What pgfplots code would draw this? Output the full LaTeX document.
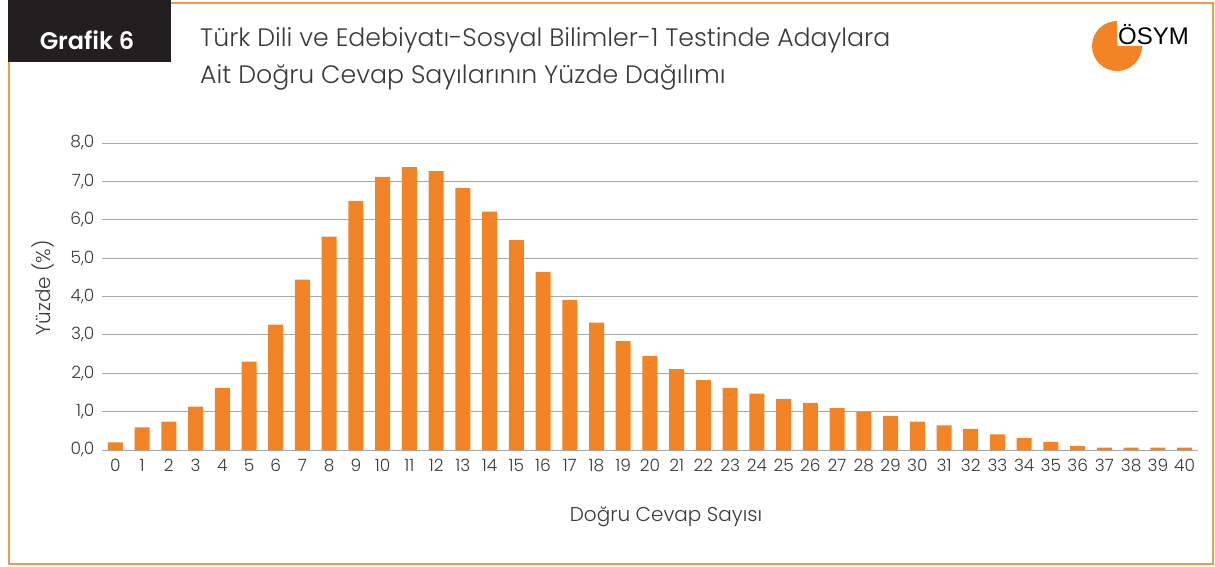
\documentclass[border=0pt]{standalone}
\usepackage{fontspec}
\setmainfont{Poppins}[UprightFont=* Light, BoldFont=* SemiBold]
\newfontfamily\osymfont{Liberation Sans}
\usepackage{pgfplots}
\pgfplotsset{compat=1.18}
\definecolor{barorange}{HTML}{F38425}
\definecolor{frameorange}{HTML}{F29A4A}
\definecolor{gridgray}{HTML}{A8A8A8}
\definecolor{textgray}{HTML}{3A3A3A}
\definecolor{boxblack}{HTML}{231F20}

\begin{document}
\begin{tikzpicture}[x=1pt,y=1pt]
\useasboundingbox (0,0) rectangle (1215,566);
% frame and header
\draw[frameorange, line width=1.3pt] (171,563) -- (1213,563) -- (1213,2) -- (9,2) -- (9,504);
\fill[boxblack] (8,504) rectangle (171,566);
\node[white, font=\fontsize{24}{28}\selectfont\bfseries] at (87,526) {Grafik 6};
\node[anchor=base west, text=textgray, font=\fontsize{25.2}{28}\selectfont, inner sep=0] at (200,519)
    {Türk Dili ve Edebiyatı-Sosyal Bilimler-1 Testinde Adaylara};
\node[anchor=base west, text=textgray, font=\fontsize{25.2}{28}\selectfont, inner sep=0] at (200,482)
    {Ait Doğru Cevap Sayılarının Yüzde Dağılımı};
% logo
\fill[barorange] (1117,520) -- (1117,545) arc[start angle=90, end angle=360, radius=25] -- cycle;
\node[anchor=base west, inner sep=0, font=\fontsize{24}{26}\osymfont] at (1118,521) {ÖSYM};

\begin{axis}[
    at={(102pt,116pt)}, anchor=south west,
    scale only axis, width=1096pt, height=307pt,
    xmin=-0.5, xmax=40.5, ymin=0, ymax=8,
    ybar, bar width=15pt, bar shift=0pt,
    axis line style={draw=none},
    xtick={0,1,...,40}, ytick={0,1,...,8},
    major tick length=0pt,
    ymajorgrids, major grid style={gridgray, line width=1pt},
    tick label style={font=\fontsize{17}{19}\selectfont, text=textgray},
    xticklabel style={yshift=-6pt, /pgf/number format/assume math mode=true},
    yticklabel style={xshift=-4pt, /pgf/number format/.cd, use comma, fixed, fixed zerofill, precision=1, assume math mode=true},
]
\addplot[fill=barorange, draw=none] coordinates {
    (0,0.20) (1,0.59) (2,0.74) (3,1.13) (4,1.62) (5,2.30) (6,3.27) (7,4.44)
    (8,5.56) (9,6.49) (10,7.12) (11,7.37) (12,7.27) (13,6.83) (14,6.21) (15,5.47)
    (16,4.64) (17,3.91) (18,3.32) (19,2.84) (20,2.45) (21,2.11) (22,1.82) (23,1.62)
    (24,1.47) (25,1.33) (26,1.23) (27,1.09) (28,0.99) (29,0.89) (30,0.74) (31,0.64)
    (32,0.55) (33,0.41) (34,0.31) (35,0.21) (36,0.10) (37,0.06) (38,0.06) (39,0.06)
    (40,0.06)
};
\end{axis}
\node[text=textgray, font=\fontsize{20}{22}\selectfont] at (666,49) {Doğru Cevap Sayısı};
\node[text=textgray, font=\fontsize{20}{22}\selectfont, rotate=90] at (43,278) {Yüzde (\%)};
\end{tikzpicture}
\end{document}
